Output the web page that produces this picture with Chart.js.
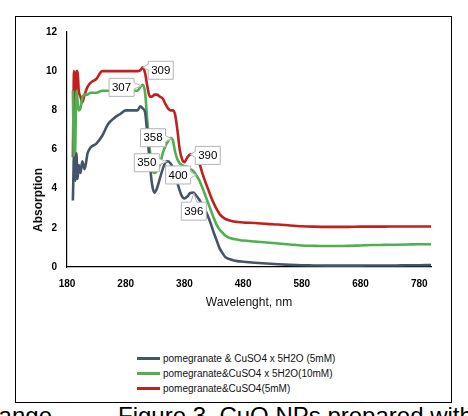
<!DOCTYPE html>
<html>
<head>
<meta charset="utf-8">
<script src="https://cdn.jsdelivr.net/npm/chart.js"></script>
<style>
  body { margin: 0; width: 468px; height: 416px; overflow: hidden; background: #fff; font-family: "Liberation Sans", Arial, sans-serif; }
  .frame { position: absolute; left: 15px; top: 16px; width: 437px; height: 387px; border: 1px solid #000; box-sizing: border-box; }
  #myChart { position: absolute; left: 0; top: 0; }
  .legend { position: absolute; left: 137px; top: 351px; font-size: 10px; color: #111; }
  .legend div { height: 15px; line-height: 15px; white-space: nowrap; }
  .legend span.swatch { display: inline-block; width: 23px; height: 3px; vertical-align: middle; margin-right: 3px; margin-top: -2px; }
  .caption { position: absolute; top: 404px; font-size: 24px; line-height: 24px; color: #000; white-space: nowrap; }
</style>
</head>
<body>
<div class="frame"></div>
<canvas id="myChart" width="468" height="325"></canvas>
<div class="legend" id="legend"></div>
<div class="caption" style="right: 416px;">range</div>
<div class="caption" style="left: 118px;">Figure 3. CuO NPs prepared with</div>
<script>
// du lieu doc tu hinh
const wavelength = [190, 192, 194, 196, 198, 200, 203, 206, 210, 215, 220, 230, 240, 250, 260, 270, 280, 290, 300, 305,
  309, 313, 317, 321, 325, 329, 333, 338, 343, 348, 352, 356, 360, 364, 368, 372, 376, 380, 385, 390,
  395, 400, 405, 410, 415, 420, 425, 430, 435, 440, 445, 450, 460, 470, 480, 500, 520, 540, 560, 580,
  600, 620, 640, 660, 680, 700, 720, 740, 760, 780, 800];

const pentahydrate5mM = [3.4, 5.6, 4.4, 5.8, 4.5, 5.2, 4.8, 5.4, 5.0, 5.8, 6.1, 6.3, 6.7, 7.3, 7.6, 7.8, 8.0, 8.0, 8.0, 8.2,
  8.1, 7.9, 6.7, 5.3, 4.2, 3.8, 4.0, 4.5, 5.0, 5.35, 5.4, 5.3, 5.1, 4.7, 4.3, 3.9, 3.6, 3.5, 3.6, 3.78,
  3.8, 3.65, 3.45, 3.2, 2.95, 2.6, 2.2, 1.75, 1.35, 0.95, 0.7, 0.5, 0.37, 0.3, 0.27, 0.22, 0.18, 0.14, 0.11, 0.09,
  0.08, 0.07, 0.07, 0.07, 0.07, 0.08, 0.08, 0.08, 0.09, 0.09, 0.1];

const pentahydrate10mM = [9.0, 5.1, 6.0, 9.0, 8.5, 8.0, 8.1, 8.6, 8.8, 8.8, 8.9, 8.9, 9.0, 9.0, 9.0, 9.0, 9.0, 9.0, 9.0, 9.2,
  9.3, 8.9, 7.4, 6.0, 5.0, 4.8, 4.9, 5.2, 5.8, 6.2, 6.4, 6.6, 6.5, 5.9, 5.5, 5.3, 5.2, 5.15, 5.1, 5.0,
  4.9, 4.7, 4.45, 4.1, 3.7, 3.3, 2.9, 2.5, 2.15, 1.9, 1.75, 1.6, 1.45, 1.4, 1.35, 1.3, 1.25, 1.2, 1.15, 1.1,
  1.08, 1.07, 1.07, 1.08, 1.1, 1.12, 1.13, 1.14, 1.15, 1.16, 1.16];

const sulfate5mM = [5.6, 10.0, 7.5, 10.0, 10.0, 9.0, 8.7, 8.4, 8.8, 9.2, 9.4, 9.6, 10.0, 10.0, 10.0, 10.0, 10.0, 10.0, 10.0, 10.05,
  10.2, 9.9, 9.2, 8.7, 8.7, 8.8, 8.8, 8.7, 8.6, 8.3, 8.1, 8.0, 8.0, 7.8, 7.0, 6.0, 5.5, 5.35, 5.6, 5.75,
  5.75, 5.7, 5.35, 4.85, 4.4, 4.0, 3.6, 3.25, 2.95, 2.7, 2.55, 2.45, 2.35, 2.3, 2.27, 2.25, 2.2, 2.17, 2.12, 2.08,
  2.06, 2.05, 2.05, 2.05, 2.06, 2.06, 2.06, 2.07, 2.07, 2.07, 2.07];

const seriesNames = ['pomegranate & CuSO4 x 5H2O (5mM)', 'pomegranate&CuSO4 x 5H2O(10mM)', 'pomegranate&CuSO4(5mM)'];
const xTicks = [180, 280, 380, 480, 580, 680, 780];

// nhan chu thich dinh
const peakLabels = ['309', '307', '358', '350', '400', '390', '396'];
const peakSeries = [2, 1, 1, 0, 1, 2, 0];
const peakWavelength = [309, 307, 358, 350, 400, 390, 396];

const boxOffsets = [[18, 3], [-20, 1.5], [-18.5, -1], [-20, 1], [-18, 0], [17.5, 1], [0, 18]];

function toPoints(values) {
  return wavelength.map((w, i) => ({ x: w, y: values[i] }));
}

function valueAt(values, nm) {
  for (let i = 0; i < wavelength.length - 1; i++) {
    if (nm >= wavelength[i] && nm <= wavelength[i + 1]) {
      const t = (nm - wavelength[i]) / (wavelength[i + 1] - wavelength[i]);
      return values[i] + t * (values[i + 1] - values[i]);
    }
  }
  return values[values.length - 1];
}

const allSeries = [pentahydrate5mM, pentahydrate10mM, sulfate5mM];
const colors = ['#44546a', '#4eb04f', '#c0211f'];

let data = {
  datasets: allSeries.map((vals, i) => ({
    label: seriesNames[i],
    data: toPoints(vals),
    borderColor: colors[i],
    backgroundColor: colors[i],
    borderWidth: 2.6,
    pointRadius: 0,
    cubicInterpolationMode: 'monotone'
  }))
};

function calloutPath(c, x, y, w, h, ax, ay) {
  let side;
  if (ax < x) side = 'left';
  else if (ax > x + w) side = 'right';
  else if (ay < y) side = 'top';
  else side = 'bottom';
  const cx = Math.min(Math.max(ax, x + 5), x + w - 5);
  const cy = Math.min(Math.max(ay, y + 5), y + h - 5);
  c.beginPath();
  c.moveTo(x, y);
  if (side === 'top') { c.lineTo(cx - 3, y); c.lineTo(ax, ay); c.lineTo(cx + 3, y); }
  c.lineTo(x + w, y);
  if (side === 'right') { c.lineTo(x + w, cy - 3); c.lineTo(ax, ay); c.lineTo(x + w, cy + 3); }
  c.lineTo(x + w, y + h);
  if (side === 'bottom') { c.lineTo(cx + 3, y + h); c.lineTo(ax, ay); c.lineTo(cx - 3, y + h); }
  c.lineTo(x, y + h);
  if (side === 'left') { c.lineTo(x, cy + 3); c.lineTo(ax, ay); c.lineTo(x, cy - 3); }
  c.closePath();
}

const extrasPlugin = {
  id: 'extras',
  afterDatasetsDraw(chart) {
    const c = chart.ctx;
    const xs = chart.scales.x, ys = chart.scales.y;
    c.save();
    c.font = '11.5px "Liberation Sans", Arial, sans-serif';
    c.textAlign = 'center';
    c.textBaseline = 'middle';
    peakLabels.forEach((txt, i) => {
      const px = xs.getPixelForValue(peakWavelength[i]);
      const py = ys.getPixelForValue(valueAt(allSeries[peakSeries[i]], peakWavelength[i]));
      const w = 25, h = 18;
      const bx = px + boxOffsets[i][0] - w / 2;
      const by = py + boxOffsets[i][1] - h / 2;
      calloutPath(c, bx, by, w, h, px, py);
      c.fillStyle = '#fff';
      c.fill();
      c.strokeStyle = '#b4b4b4';
      c.lineWidth = 1;
      c.stroke();
      c.fillStyle = '#000';
      c.fillText(txt, bx + w / 2, by + h / 2 + 0.5);
    });
    // tieu de truc y
    c.translate(39, 200);
    c.rotate(-Math.PI / 2);
    c.font = 'bold 12px "Liberation Sans", Arial, sans-serif';
    c.fillStyle = '#111';
    c.fillText('Absorption', 0, 0);
    c.restore();
  }
};

const tickFont = { family: '"Liberation Sans", Arial, sans-serif', size: 10, weight: 'bold' };

const config = {
  type: 'line',
  data: data,
  options: {
    responsive: false,
    animation: false,
    layout: { padding: { left: 15, right: 37, top: 32, bottom: 0 } },
    plugins: {
      legend: { display: false },
      tooltip: { enabled: false }
    },
    scales: {
      x: {
        type: 'linear',
        min: 180,
        max: 800,
        grid: { display: false, drawTicks: false },
        border: { display: true, color: '#000', width: 1.2 },
        ticks: { color: '#000', font: tickFont, padding: 11, maxRotation: 0 },
        afterBuildTicks: (s) => { s.ticks = xTicks.map(v => ({ value: v })); },
        afterFit: (s) => { s.height = 58; },
        title: {
          display: true,
          text: 'Wavelenght, nm',
          color: '#111',
          font: { family: '"Liberation Sans", Arial, sans-serif', size: 12 },
          padding: { top: 4, bottom: 15 }
        }
      },
      y: {
        min: 0,
        max: 12,
        grid: { display: false, drawTicks: false },
        border: { display: true, color: '#000', width: 1.2 },
        ticks: { stepSize: 2, color: '#000', font: tickFont, padding: 10 },
        afterFit: (s) => { s.width = 52; }
      }
    }
  },
  plugins: [extrasPlugin]
};

const ctx = document.getElementById('myChart').getContext('2d');
let myChart = new Chart(ctx, config);

// chu giai
const legendBox = document.getElementById('legend');
myChart.data.datasets.forEach(ds => {
  const row = document.createElement('div');
  const sw = document.createElement('span');
  sw.className = 'swatch';
  sw.style.background = ds.borderColor;
  row.appendChild(sw);
  row.appendChild(document.createTextNode(ds.label));
  legendBox.appendChild(row);
});
</script>
</body>
</html>
